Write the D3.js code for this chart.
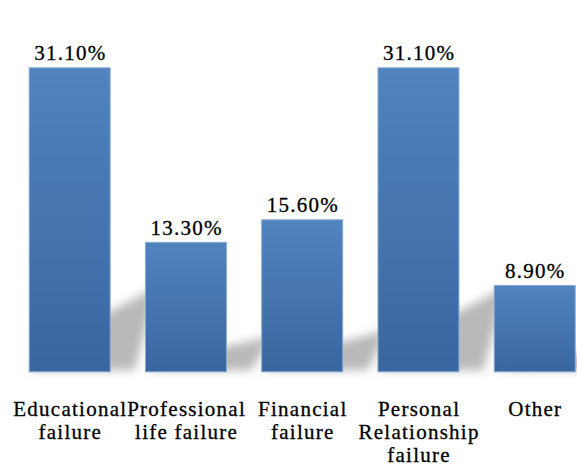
<!DOCTYPE html>
<html>
<head>
<meta charset="utf-8">
<script src="https://cdn.jsdelivr.net/npm/d3@7"></script>
<style>
  html, body { margin: 0; padding: 0; background: #fff; }
  svg { display: block; }
  text { font-family: "Liberation Serif", "Times New Roman", serif; fill: #000; stroke: #000; stroke-width: 0.3px; }
</style>
</head>
<body>
<svg id="chart" width="577" height="466"></svg>
<script>
// Reasons reported (share of respondents, %)
const categories = [
  "Educational failure",
  "Professional life failure",
  "Financial failure",
  "Personal Relationship failure",
  "Other"
];
const categoryLines = [
  ["Educational", "failure"],
  ["Professional", "life failure"],
  ["Financial", "failure"],
  ["Personal", "Relationship", "failure"],
  ["Other"]
];
const values = [31.1, 13.3, 15.6, 31.1, 8.9];
const valueLabels = ["31.10%", "13.30%", "15.60%", "31.10%", "8.90%"];

const W = 577, H = 466;
const baseY = 372.3;
const svg = d3.select("#chart");

const x = d3.scaleBand()
  .domain(categories)
  .range([28.7, 575.7])
  .paddingInner(0.295)
  .paddingOuter(0);

const y = d3.scaleLinear()
  .domain([0, 31.1])
  .range([baseY, 67.3]);

const defs = svg.append("defs");

// vertical blue gradient for each bar
const grad = defs.append("linearGradient")
  .attr("id", "barGrad")
  .attr("x1", 0).attr("y1", 0).attr("x2", 0).attr("y2", 1);
grad.append("stop").attr("offset", "0%").attr("stop-color", "#5183bf");
grad.append("stop").attr("offset", "100%").attr("stop-color", "#3a669f");

// soft blur for the cast shadows
defs.append("filter")
  .attr("id", "shadowBlur")
  .attr("x", "-50%").attr("y", "-50%").attr("width", "200%").attr("height", "200%")
  .append("feGaussianBlur")
  .attr("stdDeviation", 5);

// perspective shadow lying behind each bar, rising towards the right
const shadowG = svg.append("g").attr("filter", "url(#shadowBlur)");
shadowG.selectAll("polygon")
  .data(values)
  .join("polygon")
  .attr("points", (d, i) => {
    const x0 = x(categories[i]);
    const x1 = x0 + x.bandwidth();
    const h = baseY - y(d);
    const pts = [
      [x0, baseY - 2],
      [x1 + 24, baseY - 2],
      [x1 + 46, baseY - h * 0.28],
      [x0 + 24, baseY - h * 0.1]
    ];
    return pts.map(p => p.join(",")).join(" ");
  })
  .attr("fill", "#a8a8a8")
  .attr("fill-opacity", 0.8);

// bars
svg.append("g")
  .selectAll("rect")
  .data(values)
  .join("rect")
  .attr("x", (d, i) => x(categories[i]) + 0.5)
  .attr("y", d => y(d) + 0.5)
  .attr("width", x.bandwidth() - 1)
  .attr("height", d => baseY - y(d) - 1)
  .attr("fill", "url(#barGrad)")
  .attr("stroke", "#86a9d6")
  .attr("stroke-width", 1);

const spacing = 1.25;

// value labels above bars
svg.append("g")
  .selectAll("text")
  .data(values)
  .join("text")
  .attr("x", (d, i) => x(categories[i]) + x.bandwidth() / 2 + spacing / 2)
  .attr("y", d => y(d) - 7)
  .attr("text-anchor", "middle")
  .attr("font-size", 21)
  .attr("letter-spacing", spacing)
  .text((d, i) => valueLabels[i]);

// category labels under the bars
const catG = svg.append("g")
  .selectAll("text")
  .data(categories)
  .join("text")
  .attr("text-anchor", "middle")
  .attr("font-size", 21)
  .attr("letter-spacing", spacing)
  .attr("x", d => x(d) + x.bandwidth() / 2 + spacing / 2)
  .attr("y", 416);

catG.selectAll("tspan")
  .data((d, i) => categoryLines[i])
  .join("tspan")
  .attr("x", function () { return d3.select(this.parentNode).attr("x"); })
  .attr("dy", (d, j) => j === 0 ? 0 : 23)
  .text(d => d);
</script>
</body>
</html>
